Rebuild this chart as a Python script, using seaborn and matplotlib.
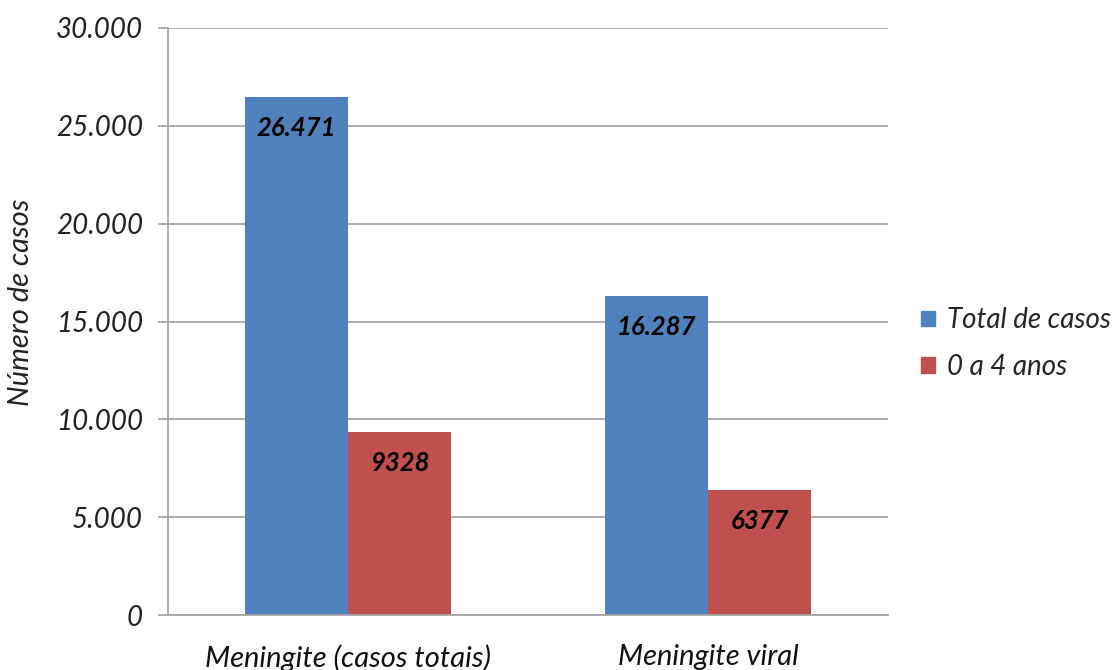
import matplotlib
matplotlib.use("Agg")
import matplotlib.pyplot as plt
from matplotlib.ticker import FuncFormatter, MultipleLocator
import seaborn as sns
import pandas as pd

# Casos de meningite: total e faixa etária de 0 a 4 anos
categorias = ["Meningite (casos totais)", "Meningite viral"]
series = ["Total de casos", "0 a 4 anos"]
total_casos = [26471, 16287]
zero_a_quatro = [9328, 6377]

cores = ["#4F81BD", "#C0504D"]
grade = "#A6A6A6"

df = pd.DataFrame({
    "doenca": categorias * 2,
    "grupo": [series[0]] * 2 + [series[1]] * 2,
    "casos": total_casos + zero_a_quatro,
})

sns.set_theme(style="white")
plt.rcParams["font.family"] = ["Lato", "DejaVu Sans"]

fig = plt.figure(figsize=(11.16, 6.70), dpi=100)
ax = fig.add_axes([168 / 1116, 55 / 670, 720 / 1116, 587 / 670])

sns.barplot(data=df, x="doenca", y="casos", hue="grupo", order=categorias,
            hue_order=series, palette=cores, saturation=1, width=0.572,
            gap=0, edgecolor="none", ax=ax)

ax.set_ylim(0, 30000)
ax.set_xlim(-0.5, 1.5)
ax.yaxis.set_major_locator(MultipleLocator(5000))
ax.yaxis.set_major_formatter(FuncFormatter(lambda v, _: f"{v:,.0f}".replace(",", ".")))
ax.grid(axis="y", color=grade, linewidth=1.3)
ax.set_axisbelow(True)

for lado in ["top", "right"]:
    ax.spines[lado].set_visible(False)
for lado in ["left", "bottom"]:
    ax.spines[lado].set_color(grade)
    ax.spines[lado].set_linewidth(1.3)

# marcas do eixo x nas fronteiras das categorias
ax.set_xticks([0, 1])
ax.set_xticks([-0.5, 0.5, 1.5], minor=True)
ax.tick_params(axis="x", which="major", length=0, pad=21)
ax.tick_params(axis="x", which="minor", length=9, color=grade, width=1.3)
ax.tick_params(axis="y", which="major", length=7, color=grade, width=1.3,
               pad=11, left=True)
for rot in ax.get_yticklabels():
    rot.set_fontsize(20)
    rot.set_fontstyle("italic")
    rot.set_color("#222222")
for rot in ax.get_xticklabels():
    rot.set_fontsize(21)
    rot.set_fontstyle("italic")
    rot.set_color("#111111")

ax.set_xlabel("")
ax.set_ylabel("Número de casos", fontsize=21, fontstyle="italic",
              color="#222222")
ax.yaxis.set_label_coords(-0.186, 0.533)


def rotulo(v):
    return f"{v:,.0f}".replace(",", ".") if v >= 10000 else f"{v:.0f}"


for cont in ax.containers:
    for barra in cont:
        h = barra.get_height()
        ax.annotate(rotulo(h), (barra.get_x() + barra.get_width() / 2, h),
                    xytext=(0, -22), textcoords="offset points",
                    ha="center", va="center", fontsize=18.5,
                    fontweight="bold", fontstyle="italic", color="black")

ax.get_legend().remove()
handles = [plt.Rectangle((0, 0), 1, 1, color=c) for c in cores]
fig.legend(handles, series, loc="center left", bbox_to_anchor=(0.825, 0.487),
           frameon=False, prop={"style": "italic", "size": 20},
           handlelength=0.5, handleheight=0.5, handletextpad=0.45,
           labelspacing=0.75, borderaxespad=0, borderpad=0)

fig.savefig("out.png", dpi=100, facecolor="white")
